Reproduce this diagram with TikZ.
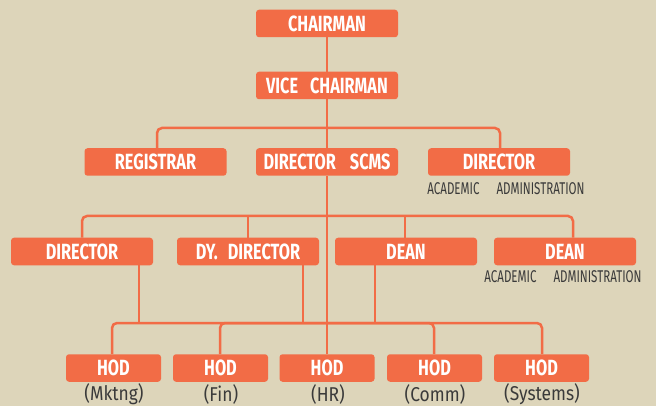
\documentclass[tikz,border=0pt]{standalone}
\usepackage{fontspec}
\setmainfont[FakeStretch=0.74]{Fira Sans}
\newfontfamily\subfont[FakeStretch=0.68]{Fira Sans}
\newfontfamily\hodsubfont[FakeStretch=0.87]{Fira Sans}
\usetikzlibrary{calc}
\definecolor{bg}{HTML}{DDD5BA}
\definecolor{boxc}{HTML}{F26C46}
\definecolor{subgray}{HTML}{3A3A3A}
\begin{document}
\begin{tikzpicture}[x=1pt,y=-1pt,
  box/.style={fill=boxc, rounded corners=3pt, minimum width=142pt, minimum height=27.5pt, inner sep=0pt,
    text=white, font=\fontsize{22}{22}\selectfont\bfseries},
  hodbox/.style={box, minimum width=95pt},
  conn/.style={draw=boxc, line width=2.5pt, rounded corners=5pt},
  sublabel/.style={text=subgray, inner sep=0pt, font=\subfont\fontsize{17}{17}\selectfont},
  hodlabel/.style={text=subgray, inner sep=0pt, font=\hodsubfont\fontsize{20}{20}\selectfont}]
\fill[bg] (0,0) rectangle (656,406);
\useasboundingbox (0,0) rectangle (656,406);
\coordinate (b1) at (327,128);
\coordinate (b2) at (327,216);
\coordinate (b3) at (327,323);
% nodes
\node[box] (chair) at (327,23.5) {CHAIRMAN};
\node[box] (vice) at (327,85.5) {VICE\hspace{12pt}CHAIRMAN};
\node[box] (reg) at (155.5,162) {REGISTRAR};
\node[box] (scms) at (327,162) {DIRECTOR\hspace{14pt}SCMS};
\node[box] (dir) at (499,162) {DIRECTOR};
\node[sublabel] (dirsub) at (506,189) {ACADEMIC\hspace{17pt}ADMINISTRATION};
\node[box] (dirA) at (82,251.5) {DIRECTOR};
\node[box] (dydir) at (248,251.5) {DY.\hspace{10pt}DIRECTOR};
\node[box] (dean) at (406,251.5) {DEAN};
\node[box] (dean2) at (565,251.5) {DEAN};
\node[sublabel] (deansub) at (563,277) {ACADEMIC\hspace{17pt}ADMINISTRATION};
\node[hodbox] (h1) at (113.5,368) {HOD};
\node[hodbox] (h2) at (220.5,368) {HOD};
\node[hodbox] (h3) at (327,368) {HOD};
\node[hodbox] (h4) at (434.5,368) {HOD};
\node[hodbox] (h5) at (541.5,368) {HOD};
\node[hodlabel] (l1) at (114,394) {(Mktng)};
\node[hodlabel] (l2) at (221,394) {(Fin)};
\node[hodlabel] (l3) at (328,394) {(HR)};
\node[hodlabel] (l4) at (435,394) {(Comm)};
\node[hodlabel] (l5) at (542,394) {(Systems)};
% connectors
\draw[conn] (chair.south) -- (vice.north);
\draw[conn] (vice.south) -- (scms.north);
\draw[conn] ([xshift=1.5pt]reg.north) |- (b1) -| ([xshift=1pt]dir.north);
\draw[conn] (scms.south) -- (h3.north);
\draw[conn] (dirA.north) |- (b2) -| ([xshift=8pt]dean2.north);
\draw[conn] (dydir.north) -- (dydir.north |- b2);
\draw[conn] ([xshift=-1pt]dean.north) -- ([xshift=-1pt]dean.north |- b2);
\draw[conn] ([xshift=57pt]dirA.south) -- ([xshift=57pt]dirA.south |- b3);
\draw[conn] ([xshift=55pt]dydir.south) -- ([xshift=55pt]dydir.south |- b3);
\draw[conn] ([xshift=-31pt]dean.south) -- ([xshift=-31pt]dean.south |- b3);
\draw[conn] ([xshift=-1.5pt]h1.north) |- (b3) -| ([xshift=0.5pt]h5.north);
\draw[conn] ([xshift=-0.5pt]h2.north) |- (b3);
\draw[conn] ([xshift=-0.5pt]h4.north) |- (b3);
\end{tikzpicture}
\end{document}
